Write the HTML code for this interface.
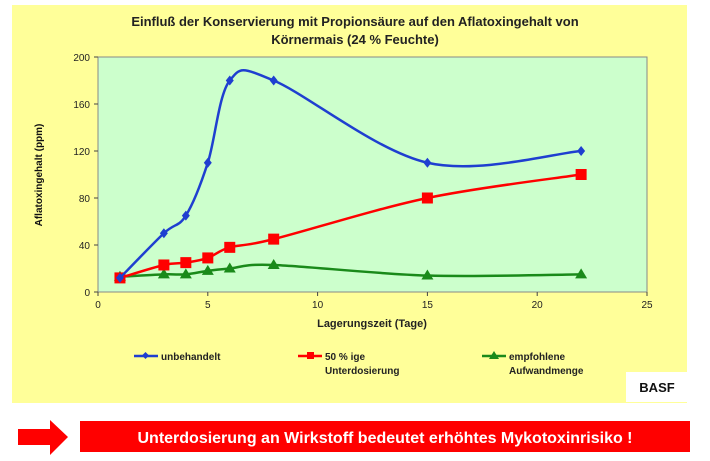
<!DOCTYPE html>
<html><head><meta charset="utf-8"><style>
body{margin:0;width:710px;height:461px;background:#fff;position:relative;overflow:hidden;font-family:"Liberation Sans",Arial,sans-serif}
</style></head><body>
<svg width="710" height="461" style="position:absolute;left:0;top:0">
<rect x="12" y="5" width="675" height="398" fill="#ffff99"/>
<text x="355" y="26" text-anchor="middle" font-size="13" font-weight="bold" fill="#222">Einfluß der Konservierung mit Propionsäure auf den Aflatoxingehalt von</text>
<text x="355" y="44" text-anchor="middle" font-size="13" font-weight="bold" fill="#222">Körnermais (24 % Feuchte)</text>
<rect x="98" y="57" width="549" height="235" fill="#ccffcc" stroke="#888" stroke-width="1"/>
<g id="axes"></g>
<g id="series"></g>
<text transform="translate(42,175) rotate(-90)" text-anchor="middle" font-size="10" font-weight="bold" fill="#111">Aflatoxingehalt  (ppm)</text>
<text x="372" y="327" text-anchor="middle" font-size="11" font-weight="bold" fill="#222">Lagerungszeit (Tage)</text>
<g font-size="10" font-weight="bold" fill="#222">
<g><line x1="134" y1="356" x2="158" y2="356" stroke="#1f3fd0" stroke-width="2.5"/><rect x="143" y="353" width="5" height="5" fill="#1f3fd0" transform="rotate(45 145.5 355.5)"/><text x="161" y="360">unbehandelt</text></g>
<g><line x1="298" y1="356" x2="322" y2="356" stroke="#ff0000" stroke-width="2.5"/><rect x="307" y="352" width="7" height="7" fill="#ff0000"/><text x="325" y="360">50 % ige</text><text x="325" y="374">Unterdosierung</text></g>
<g><line x1="482" y1="356" x2="506" y2="356" stroke="#1a8a1a" stroke-width="2.5"/><polygon points="494,351 499,359 489,359" fill="#1a8a1a"/><text x="509" y="360">empfohlene</text><text x="509" y="374">Aufwandmenge</text></g>
</g>
<rect x="626" y="372" width="62" height="30" fill="#fff"/>
<text x="657" y="392" text-anchor="middle" font-size="13" font-weight="bold" fill="#111">BASF</text>
<polygon points="18,429 50,429 50,420 68,437 50,455 50,445 18,445" fill="#ff0000"/>
<rect x="80" y="421" width="610" height="31" fill="#ff0000"/>
<text x="385" y="443" text-anchor="middle" font-size="16" font-weight="bold" fill="#fff">Unterdosierung  an Wirkstoff bedeutet erhöhtes Mykotoxinrisiko  !</text>
</svg>
<script>
const days=[1,3,4,5,6,8,15,22];
const unbehandelt=[12,50,65,110,180,180,110,120];
const unterdosierung=[12,23,25,29,38,45,80,100];
const empfohlene=[13,15,15,18,20,23,14,15];
const xTicks=[0,5,10,15,20,25];
const yTicks=[0,40,80,120,160,200];
const NS='http://www.w3.org/2000/svg';
const X=v=>98+v/25*549, Y=v=>292-v/200*235;
const ax=document.getElementById('axes'), sg=document.getElementById('series');
function mk(t,a,p){const e=document.createElementNS(NS,t);for(const k in a)e.setAttribute(k,a[k]);p.appendChild(e);return e;}
xTicks.forEach(t=>{
 const l=mk('line',{x1:X(t),x2:X(t),y1:292,y2:296,stroke:'#444'},ax);
 
 
 const tx=mk('text',{x:X(t),y:308,'text-anchor':'middle','font-size':10,fill:'#222'},ax);tx.textContent=t;
 
 
});
yTicks.forEach(t=>{
 const l=mk('line',{x1:94,x2:98,y1:Y(t),y2:Y(t),stroke:'#444'},ax);
 
 
 const tx=mk('text',{x:90,y:Y(t)+4,'text-anchor':'end','font-size':10,fill:'#222'},ax);tx.textContent=t;
 
 
});
function smooth(pts){let d='M'+pts[0][0]+','+pts[0][1];
 for(let i=0;i<pts.length-1;i++){const p0=pts[i-1]||pts[i],p1=pts[i],p2=pts[i+1],p3=pts[i+2]||p2;
  const c1=[p1[0]+(p2[0]-p0[0])/6,p1[1]+(p2[1]-p0[1])/6],c2=[p2[0]-(p3[0]-p1[0])/6,p2[1]-(p3[1]-p1[1])/6];
  d+=' C'+c1+' '+c2+' '+p2;}return d;}
function series(vals,color,shape,name){
 const pts=days.map((d,i)=>[X(d),Y(vals[i])]);
 const p=mk('path',{d:smooth(pts),fill:'none',stroke:color,'stroke-width':2.5},sg);
 
 
 pts.forEach(([x,y])=>{let m;
  if(shape==='d')m=mk('polygon',{points:`${x},${y-5} ${x+4},${y} ${x},${y+5} ${x-4},${y}`,fill:color},sg);
  else if(shape==='s')m=mk('rect',{x:x-5.5,y:y-5.5,width:11,height:11,fill:color},sg);
  else m=mk('polygon',{points:`${x},${y-6} ${x+6},${y+4} ${x-6},${y+4}`,fill:color},sg);
  
  
 });
}
series(empfohlene,'#1a8a1a','t','empfohlene');
series(unterdosierung,'#ff0000','s','unterdosierung');
series(unbehandelt,'#1f3fd0','d','unbehandelt');
</script>
</body></html>
